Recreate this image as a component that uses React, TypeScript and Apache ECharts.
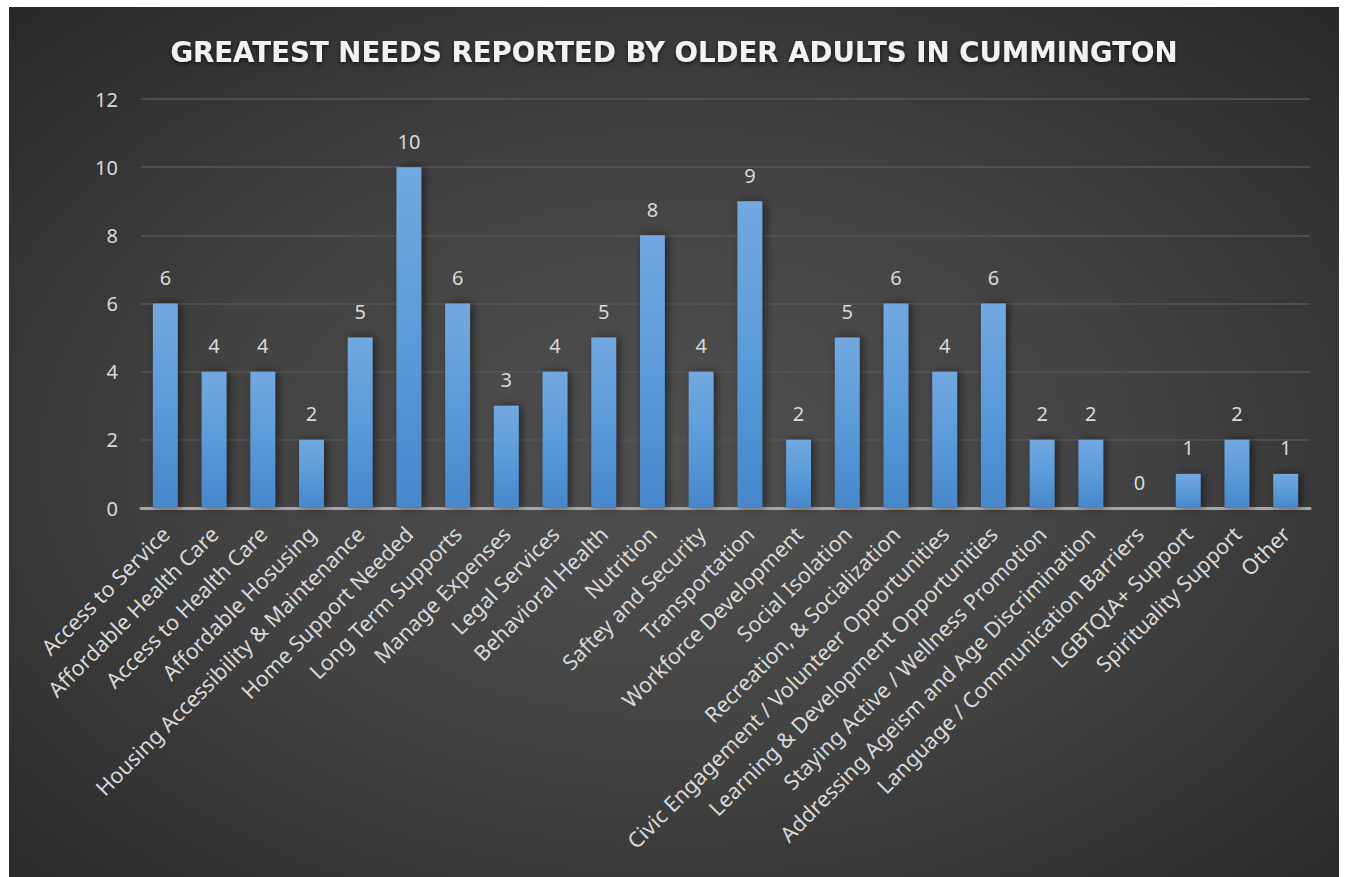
import React, { useEffect, useRef } from "react";
import * as echarts from "echarts";

const categories = [
  "Access to Service",
  "Affordable Health Care",
  "Access to Health Care",
  "Affordable Hosusing",
  "Housing Accessibility & Maintenance",
  "Home Support Needed",
  "Long Term Supports",
  "Manage Expenses",
  "Legal Services",
  "Behavioral Health",
  "Nutrition",
  "Saftey and Security",
  "Transportation",
  "Workforce Development",
  "Social Isolation",
  "Recreation, & Socialization",
  "Civic Engagement / Volunteer Opportunities",
  "Learning & Development Opportunities",
  "Staying Active / Wellness Promotion",
  "Addressing Ageism and Age Discrimination",
  "Language / Communication Barriers",
  "LGBTQIA+ Support",
  "Spirituality Support",
  "Other",
];

const values = [6, 4, 4, 2, 5, 10, 6, 3, 4, 5, 8, 4, 9, 2, 5, 6, 4, 6, 2, 2, 0, 1, 2, 1];

const yMin = 0;
const yMax = 12;
const yStep = 2;

const titleText = "GREATEST NEEDS REPORTED BY OLDER ADULTS IN CUMMINGTON";

export default function App() {
  const ref = useRef<HTMLDivElement>(null);
  useEffect(() => {
    const chart = echarts.init(ref.current!, null, { renderer: "svg" });
    chart.setOption({
      animation: false,
      backgroundColor: {
        type: "radial",
        x: 0.5,
        y: 0.52,
        r: 0.75,
        colorStops: [
          { offset: 0, color: "#505050" },
          { offset: 0.45, color: "#434343" },
          { offset: 1, color: "#262626" },
        ],
      },
      title: {
        text: titleText,
        left: "center",
        top: 26,
        textStyle: {
          fontFamily: "DejaVu Sans",
          fontWeight: "bold",
          fontSize: 27.6,
          color: "#f2f2f2",
          textShadowColor: "rgba(0,0,0,0.6)",
          textShadowBlur: 4,
          textShadowOffsetY: 2,
        },
      },
      grid: { left: 132, right: 29, top: 92, bottom: 369, containLabel: false },
      xAxis: {
        type: "category",
        data: categories,
        axisTick: { show: false },
        axisLine: { lineStyle: { color: "#a6a6a6", width: 3 } },
        axisLabel: {
          interval: 0,
          rotate: 45,
          margin: 22,
          color: "#d9d9d9",
          fontSize: 21.5,
          fontFamily: "Noto Sans",
        },
      },
      yAxis: {
        type: "value",
        min: yMin,
        max: yMax,
        interval: yStep,
        axisLine: { show: false },
        axisTick: { show: false },
        axisLabel: { color: "#d9d9d9", fontSize: 20, margin: 23, fontFamily: "Noto Sans" },
        splitLine: { lineStyle: { color: "#575757", width: 1.5 } },
      },
      series: [
        {
          type: "bar",
          data: values,
          barWidth: "51%",
          itemStyle: {
            color: new echarts.graphic.LinearGradient(0, 0, 0, 1, [
              { offset: 0, color: "#73a8e0" },
              { offset: 0.5, color: "#5b9bd9" },
              { offset: 1, color: "#4787cb" },
            ]),
            shadowColor: "rgba(0,0,0,0.5)",
            shadowBlur: 8,
            shadowOffsetX: 3,
          },
          label: {
            show: true,
            position: "top",
            distance: 16,
            color: "#d9d9d9",
            fontSize: 20,
            fontFamily: "Noto Sans",
          },
        },
      ],
    });
    return () => chart.dispose();
  }, []);
  return (
    <div
      style={{
        position: "fixed",
        left: 0,
        top: 0,
        width: 1347,
        height: 877,
        background: "#fff",
        overflow: "hidden",
      }}
    >
      <div ref={ref} style={{ position: "absolute", left: 9, top: 7, width: 1330, height: 870 }} />
    </div>
  );
}
